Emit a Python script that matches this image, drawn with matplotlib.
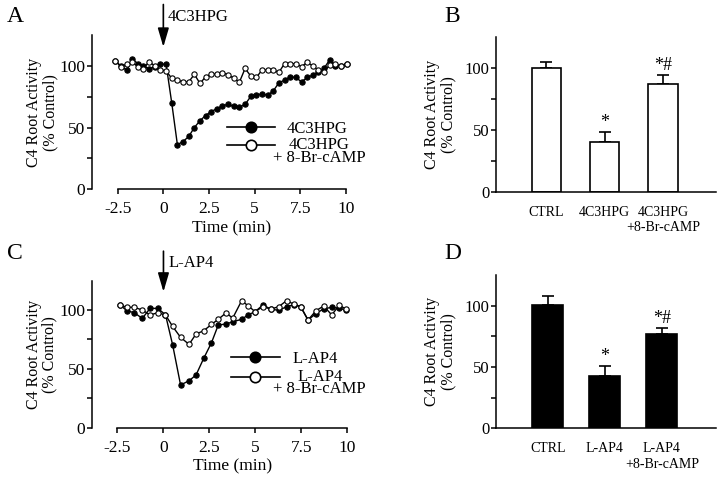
import numpy as np
import matplotlib
matplotlib.use('Agg')
import matplotlib.pyplot as plt

#### #### #### #### #### #### #### #### #### #### #### #### #### #### #### ####
#### DATA

time_A = [-2.63, -2.32, -2.01, -1.70, -1.39, -1.09, -0.78, -0.47, -0.16, 0.15,
          0.46, 0.77, 1.08, 1.39, 1.70, 2.01, 2.31, 2.62, 2.93, 3.24,
          3.55, 3.86, 4.17, 4.48, 4.79, 5.10, 5.40, 5.71, 6.02, 6.33,
          6.64, 6.95, 7.26, 7.57, 7.88, 8.19, 8.49, 8.80, 9.11, 9.42,
          9.73, 10.04]
drug_A = [104, 100, 96.5, 105.5, 102, 100, 97.5, 99.5, 101.5, 101.5,
          70, 36, 38.6, 42.7, 50, 55.6, 59.7, 63, 65.2, 67.7,
          68.8, 67.1, 66.6, 68.8, 75.3, 76.2, 77.5, 76.2, 79.7, 86.3,
          88.5, 91.2, 90.7, 87.1, 90.7, 92.6, 95, 98, 105, 100,
          100, 102]
camp_A = [104, 99.5, 101.6, 103, 99.5, 97.8, 103.6, 100, 97, 96,
          90, 88.5, 87.1, 87.1, 93.2, 85.8, 91.2, 93.4, 93.4, 94.5,
          93, 89.9, 87, 98, 91.8, 90.7, 96.7, 96.7, 96.7, 94.8,
          102, 101.6, 102, 99.5, 103, 100, 96.7, 95.3, 100.8, 102,
          100, 102]

time_C = [-2.37, -1.98, -1.59, -1.15, -0.73, -0.31, 0.11, 0.50, 0.93, 1.39,
          1.77, 2.19, 2.61, 2.98, 3.41, 3.76, 4.25, 4.62, 4.98, 5.40,
          5.84, 6.26, 6.69, 7.09, 7.46, 7.86, 8.29, 8.71, 9.15, 9.56,
          9.93]
drug_C = [104.2, 99.4, 97.7, 92.9, 101.4, 101.4, 96, 70.3, 36.3, 39.9,
          44.8, 59, 72.2, 87.3, 88.1, 90, 92.1, 96, 98.6, 104.2,
          100.8, 99.7, 102.8, 104.5, 102.8, 91.5, 97, 101, 102.3, 101.4,
          100]
camp_C = [104.2, 102.3, 102.3, 100, 95.8, 97.7, 95.8, 86, 76.8, 70.8,
          79.6, 82.4, 87.8, 92.1, 97.7, 93, 107.9, 103.4, 98.6, 102.8,
          100.8, 102.8, 107.9, 105, 102.8, 91.5, 99.4, 103.4, 95.8, 104.2,
          100.6]

labels_B = ['CTRL', '4C3HPG', '4C3HPG\n+8-Br-cAMP']
mean_B = [100, 40, 87]
sem_B = [5, 8, 7.3]
star_B = ['', '*', '*#']

labels_D = ['CTRL', 'L-AP4', 'L-AP4\n+8-Br-cAMP']
mean_D = [100.5, 43, 76.7]
sem_D = [7.5, 7.8, 4.9]
star_D = ['', '*', '*#']

#### #### #### #### #### #### #### #### #### #### #### #### #### #### #### ####
#### PLOT SETTINGS

plt.rcParams['font.family'] = ['Liberation Serif', 'DejaVu Serif']
plt.rcParams['font.size'] = 12
plt.rcParams['axes.linewidth'] = 1.1
plt.rcParams['xtick.major.width'] = 1.1
plt.rcParams['ytick.major.width'] = 1.1
plt.rcParams['xtick.major.size'] = 3.8
plt.rcParams['ytick.major.size'] = 3.8
plt.rcParams['xtick.labelsize'] = 12.5
plt.rcParams['ytick.labelsize'] = 12.5

fig = plt.figure(figsize=(7.2, 4.79), dpi=100)

ylab = 'C4 Root Activity\n(% Control)'
yt = [0, 25, 50, 75, 100]
ytl = ['0', '', '50', '', '100']


def key(ax, x0, x1, y, mfc):
	# legend key drawn in axes fraction: line with a big marker in the middle
	ax.plot([x0, x1], [y, y], '-', color='k', lw=1.2, transform=ax.transAxes, clip_on=False)
	ax.plot([(x0 + x1) / 2], [y], 'o', ms=7.5, mfc=mfc, mec='k', mew=1.2,
		transform=ax.transAxes, clip_on=False)


def time_panel(rect, t, drug, camp, name, leg):

	ax = fig.add_axes(rect)

	ax.plot(t, drug, '-o', color='k', lw=1.0, ms=3.8, mfc='k', mec='k', mew=0.8)
	ax.plot(t, camp, '-o', color='k', lw=1.0, ms=3.8, mfc='w', mec='k', mew=0.8)

	ax.set_xlim(-3.9, 10.25)
	ax.set_ylim(0, 125)
	ax.spines['top'].set_visible(False)
	ax.spines['right'].set_visible(False)
	ax.spines['bottom'].set_bounds(-2.5, 10)

	ax.set_xticks([-2.5, 0, 2.5, 5, 7.5, 10])
	ax.set_xticklabels(['-2.5', '0', '2.5', '5', '7.5', '10'])
	ax.set_yticks(yt)
	ax.set_yticklabels(ytl)
	ax.tick_params(axis='x', pad=5)
	ax.tick_params(axis='y', pad=1)

	ax.set_xlabel('Time (min)', labelpad=2, fontsize=12.5)
	ax.xaxis.label.set_x((3.75 + 3.9) / 14.15)
	ax.set_ylabel(ylab, labelpad=1, linespacing=1.0, fontsize=11.5)

	# drug application arrow
	ax.annotate('', xy=(0, 115.5), xytext=(0, 150), annotation_clip=False,
		arrowprops=dict(arrowstyle='-|>,head_length=0.95,head_width=0.28', color='k', lw=1.2,
			shrinkA=0, shrinkB=0))
	ax.text(0.25, 140, name, ha='left', va='center', fontsize=12)

	# legend
	x0, x1, xt, xc, y1, y2, y2t = leg
	key(ax, x0, x1, y1, 'k')
	key(ax, x0, x1, y2, 'w')
	ax.text(xt, y1, name, transform=ax.transAxes, ha='left', va='center_baseline', fontsize=12)
	ax.text(xc, y2t, name + '\n+ 8-Br-cAMP', transform=ax.transAxes, ha='center', va='top',
		multialignment='center', linespacing=0.72, fontsize=12)

	return ax


def bar_panel(rect, labels, mean, sem, star, fc, width, xlim):

	ax = fig.add_axes(rect)

	x = np.arange(len(mean))
	ax.bar(x, mean, width=width, color=fc, edgecolor='k', linewidth=1.2, zorder=2)
	ax.errorbar(x, mean, yerr=[np.zeros(len(sem)), sem], fmt='none', ecolor='k',
		elinewidth=1.2, capsize=4, capthick=1.2, zorder=1)

	for ii, s in enumerate(star):
		if s:
			ax.text(x[ii], mean[ii] + sem[ii] + 1, s, ha='center', va='bottom', fontsize=13)

	ax.set_xlim(xlim)
	ax.set_ylim(0, 125)
	ax.spines['top'].set_visible(False)
	ax.spines['right'].set_visible(False)

	ax.set_xticks(x)
	ax.set_xticklabels(labels, fontsize=10, linespacing=1.25)
	ax.tick_params(axis='x', length=0, pad=10)
	ax.set_yticks(yt)
	ax.set_yticklabels(ytl, fontsize=12)
	ax.tick_params(axis='y', pad=1)
	ax.set_ylabel(ylab, labelpad=6, linespacing=1.0, fontsize=11.5)

	return ax


#### #### #### #### #### #### #### #### #### #### #### #### #### #### #### ####
#### PANELS

axA = time_panel([0.128, 0.6054, 0.3587, 0.321], time_A, drug_A, camp_A, '4C3HPG',
	(0.521, 0.708, 0.753, 0.878, 0.405, 0.286, 0.338))
axC = time_panel([0.1274, 0.1071, 0.3615, 0.3071], time_C, drug_C, camp_C, 'L-AP4',
	(0.534, 0.723, 0.771, 0.876, 0.479, 0.347, 0.401))

axB = bar_panel([0.6889, 0.5998, 0.3056, 0.3223], labels_B, mean_B, sem_B, star_B,
	'w', 0.5, (-0.86, 2.91))
axD = bar_panel([0.6889, 0.1058, 0.3056, 0.32], labels_D, mean_D, sem_D, star_D,
	'k', 0.54, (-0.91, 2.95))

# panel letters
fig.text(0.010, 0.988, 'A', fontsize=17, va='top')
fig.text(0.617, 0.988, 'B', fontsize=17, va='top')
fig.text(0.010, 0.492, 'C', fontsize=17, va='top')
fig.text(0.617, 0.492, 'D', fontsize=17, va='top')

plt.savefig('out.png', dpi=100)
